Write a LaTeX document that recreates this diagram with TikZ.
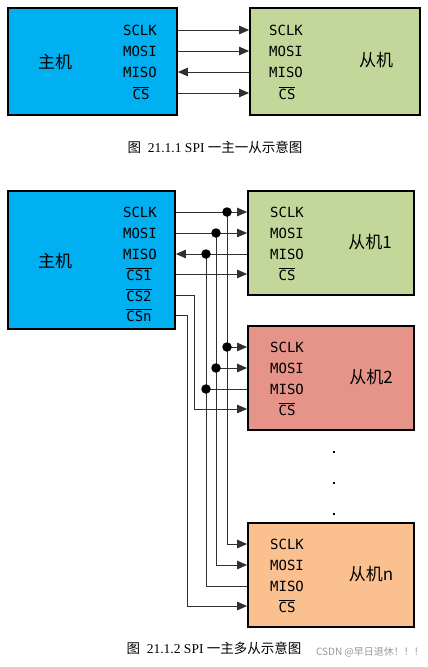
\documentclass[tikz,border=0pt]{standalone}
\usepackage{fontspec}
\setmainfont{Liberation Serif}
\newfontfamily\cjk{Noto Sans CJK SC}
\newfontfamily\mono{DejaVu Sans Mono}
\usetikzlibrary{arrows.meta}
\definecolor{mblue}{HTML}{00B0F0}
\definecolor{sgreen}{HTML}{C4D79B}
\definecolor{sred}{HTML}{E6948A}
\definecolor{sorange}{HTML}{FAC090}
\definecolor{wirec}{HTML}{303030}
\newcommand{\ovl}[1]{\ensuremath{\overline{\hbox{#1}}}}
\begin{document}
\begin{tikzpicture}[x=1pt,y=-1pt,
  boxst/.style={draw=black, line width=1.8pt, inner sep=0pt},
  sig/.style={font=\mono\fontsize{14}{16}\selectfont, inner sep=0pt, anchor=center},
  cn/.style={font=\cjk\fontsize{17}{19}\selectfont, inner sep=0pt},
  wire/.style={draw=wirec, line width=0.9pt},
  arr/.style={wire, -{Triangle[length=10pt,width=8.5pt]}},
  jdot/.style={circle, fill=black, inner sep=0pt, minimum size=9.5pt},
  vdot/.style={fill=black, inner sep=0pt, minimum size=2.8pt},
  captext/.style={font=\fontsize{13.5}{15}\selectfont, inner sep=0pt}]
\useasboundingbox (0,0) rectangle (428,667);
% ---------- top diagram ----------
\node[boxst, fill=mblue, minimum width=169pt, minimum height=107pt] (m1) at (92.5,61.5) {};
\node[boxst, fill=sgreen, minimum width=170pt, minimum height=107pt] (s1) at (335,61.5) {};
\node[cn] (m1name) at (55,62) {主机};
\node[cn] (s1name) at (376,60) {从机};
\node[sig] (m1a) at (140,30) {SCLK};
\node[sig] (m1b) at (140,51) {MOSI};
\node[sig] (m1c) at (140,72) {MISO};
\node[sig] (m1d) at (141,93) {\ovl{CS}};
\node[sig] (s1a) at (286,30) {SCLK};
\node[sig] (s1b) at (286,51) {MOSI};
\node[sig] (s1c) at (286,72) {MISO};
\node[sig] (s1d) at (287,93) {\ovl{CS}};
\draw[arr] (m1.east |- m1a) -- (s1.west |- m1a);
\draw[arr] (m1.east |- m1b) -- (s1.west |- m1b);
\draw[arr] (s1.west |- m1c) -- (m1.east |- m1c);
\draw[arr] (m1.east |- m1d) -- (s1.west |- m1d);
\node[captext] (cap1) at (215,147) {{\cjk 图}\ \ 21.1.1 SPI {\cjk 一主一从示意图}};
% ---------- bottom diagram ----------
\node[boxst, fill=mblue, minimum width=167pt, minimum height=138pt] (M) at (91.5,260) {};
\node[boxst, fill=sgreen, minimum width=166pt, minimum height=104pt] (S1) at (331,243) {};
\node[boxst, fill=sred, minimum width=166pt, minimum height=104pt] (S2) at (331,378) {};
\node[boxst, fill=sorange, minimum width=166pt, minimum height=104pt] (Sn) at (331,575) {};
\node[cn] (Mname) at (55,261) {主机};
\node[cn] (S1name) at (370,242) {从机1};
\node[cn] (S2name) at (371,377) {从机2};
\node[cn] (Snname) at (371,574) {从机n};
\node[sig] (Ma) at (140,212) {SCLK};
\node[sig] (Mb) at (140,233) {MOSI};
\node[sig] (Mc) at (140,254) {MISO};
\node[sig] (Md) at (139,274) {\ovl{CS1}};
\node[sig] (Me) at (139,295) {\ovl{CS2}};
\node[sig] (Mf) at (139,315) {\ovl{CSn}};
\foreach \s/\y in {S1/212,S2/347,Sn/544}{
  \node[sig] (\s a) at (287,\y) {SCLK};
  \node[sig] (\s b) at (287,\y+21) {MOSI};
  \node[sig] (\s c) at (287,\y+42) {MISO};
  \node[sig] (\s d) at (287,\y+62) {\ovl{CS}};
}
% junctions
\coordinate (ja) at (227,212);
\coordinate (jb) at (216,233);
\coordinate (jc) at (206,254);
\coordinate (ja2) at (227,347);
\coordinate (jb2) at (216,368);
\coordinate (jc2) at (206,389);
\coordinate (k2) at (194,295);
\coordinate (k3) at (187,315);
% slave 1
\draw[arr] (M.east |- Ma) -- (S1.west |- S1a);
\draw[arr] (M.east |- Mb) -- (S1.west |- S1b);
\draw[arr] (S1.west |- S1c) -- (M.east |- Mc);
\draw[arr] (M.east |- Md) -- (S1.west |- S1d);
% buses down
\draw[arr] (ja) |- (Sn.west |- Sna);
\draw[arr] (jb) |- (Sn.west |- Snb);
\draw[wire] (jc) |- (Sn.west |- Snc);
\draw[arr] (M.east |- Mf) -- (k3) |- (Sn.west |- Snd);
% slave 2
\draw[arr] (ja2) -- (S2.west |- S2a);
\draw[arr] (jb2) -- (S2.west |- S2b);
\draw[wire] (S2.west |- S2c) -- (jc2);
\draw[arr] (M.east |- Me) -- (k2) |- (S2.west |- S2d);
% dots
\foreach \j in {ja,jb,jc,ja2,jb2,jc2} \node[jdot] at (\j) {};
\node[vdot] (d1) at (334,452) {};
\node[vdot] (d2) at (334,483) {};
\node[vdot] (d3) at (334,514) {};
\node[captext] (cap2) at (214,648) {{\cjk 图}\ \ 21.1.2 SPI {\cjk 一主多从示意图}};
\node[font=\cjk\fontsize{10}{11}\selectfont, text=black!40, inner sep=0pt] (wm) at (370,652) {CSDN @早日退休！！！};
\end{tikzpicture}
\end{document}
